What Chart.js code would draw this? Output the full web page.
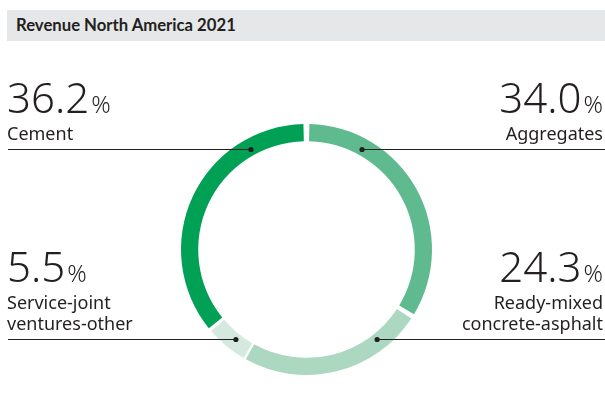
<!DOCTYPE html>
<html>
<head>
<meta charset="utf-8">
<script src="https://cdn.jsdelivr.net/npm/chart.js@4/dist/chart.umd.min.js"></script>
<style>
  html, body { margin: 0; padding: 0; background: #fff; }
  #wrap { position: relative; width: 605px; height: 406px; overflow: hidden; }
  #title { position: absolute; left: 7px; top: 10px; width: 598px; height: 31px; background: #e6e7e8;
           font-family: Lato, "Noto Sans", sans-serif; font-weight: 700; font-size: 16.7px; color: #231f20;
           line-height: 31px; padding-left: 9px; box-sizing: border-box; }
  canvas { position: absolute; left: 0; top: 0; }
  .lab { position: absolute; font-family: "Noto Sans", sans-serif; color: #231f20; white-space: nowrap; }
  .num { font-weight: 300; font-size: 42px; line-height: 42px; height: 42px; }
  .pct { font-weight: 300; font-size: 24px; line-height: 0; margin-left: 2px; }
  .name { font-weight: 400; font-size: 18px; line-height: 21px; }
</style>
</head>
<body>
<div id="wrap">
  <div id="title"></div>
  <canvas id="c" width="605" height="406"></canvas>
</div>
<script>
const chartTitle = "Revenue North America 2021";
const categories = ["Aggregates", "Ready-mixed concrete-asphalt", "Service-joint ventures-other", "Cement"];
const labelLines = [["Aggregates"], ["Ready-mixed", "concrete-asphalt"], ["Service-joint", "ventures-other"], ["Cement"]];
const values = [34.0, 24.3, 5.5, 36.2];
const colors = ["#5fbb8f", "#acd8c2", "#d5eadf", "#00a055"];

// label layout: side, leader line y, block top
const layout = [
  { side: "right", lineY: 149.5, top: 76 },
  { side: "right", lineY: 339.5, top: 245 },
  { side: "left",  lineY: 339.5, top: 245 },
  { side: "left",  lineY: 149.5, top: 76 }
];

document.getElementById('title').textContent = chartTitle;

const wrap = document.getElementById('wrap');
categories.forEach((cat, i) => {
  const L = layout[i];
  const d = document.createElement('div');
  d.className = 'lab';
  d.style.top = L.top + 'px';
  if (L.side === 'left') { d.style.left = '7px'; d.style.textAlign = 'left'; }
  else { d.style.right = '2px'; d.style.textAlign = 'right'; }
  const n = document.createElement('div');
  n.className = 'num';
  n.innerHTML = values[i].toFixed(1) + '<span class="pct">%</span>';
  d.appendChild(n);
  const nm = document.createElement('div');
  nm.className = 'name';
  nm.style.marginTop = '5px';
  nm.innerHTML = labelLines[i].join('<br>');
  d.appendChild(nm);
  wrap.appendChild(d);
});

const leaderPlugin = {
  id: 'leaders',
  afterDraw(chart) {
    const ctx = chart.ctx;
    const meta = chart.getDatasetMeta(0);
    const arc0 = meta.data[0];
    const cx = arc0.x, cy = arc0.y;
    const rMid = (arc0.innerRadius + arc0.outerRadius) / 2;
    ctx.save();
    ctx.strokeStyle = '#231f20';
    ctx.fillStyle = '#231f20';
    ctx.lineWidth = 1.2;
    meta.data.forEach((arc, i) => {
      const L = layout[i];
      const dy = L.lineY - cy;
      const dx = Math.sqrt(Math.max(rMid * rMid - dy * dy, 0));
      const px = L.side === 'left' ? cx - dx : cx + dx;
      const ex = L.side === 'left' ? 8 : 605;
      ctx.beginPath();
      ctx.moveTo(ex, L.lineY);
      ctx.lineTo(px, L.lineY);
      ctx.stroke();
      ctx.beginPath();
      ctx.arc(px, L.lineY, 2.6, 0, Math.PI * 2);
      ctx.fill();
    });
    ctx.restore();
  }
};

new Chart(document.getElementById('c'), {
  type: 'doughnut',
  data: {
    labels: categories,
    datasets: [{
      data: values,
      backgroundColor: colors,
      borderWidth: 0,
      spacing: 5,
      hoverOffset: 0
    }]
  },
  options: {
    responsive: false,
    animation: false,
    cutout: '86%',
    layout: { padding: { left: 181, right: 173, top: 124, bottom: 31 } },
    plugins: { legend: { display: false }, tooltip: { enabled: false } }
  },
  plugins: [leaderPlugin]
});
</script>
</body>
</html>
